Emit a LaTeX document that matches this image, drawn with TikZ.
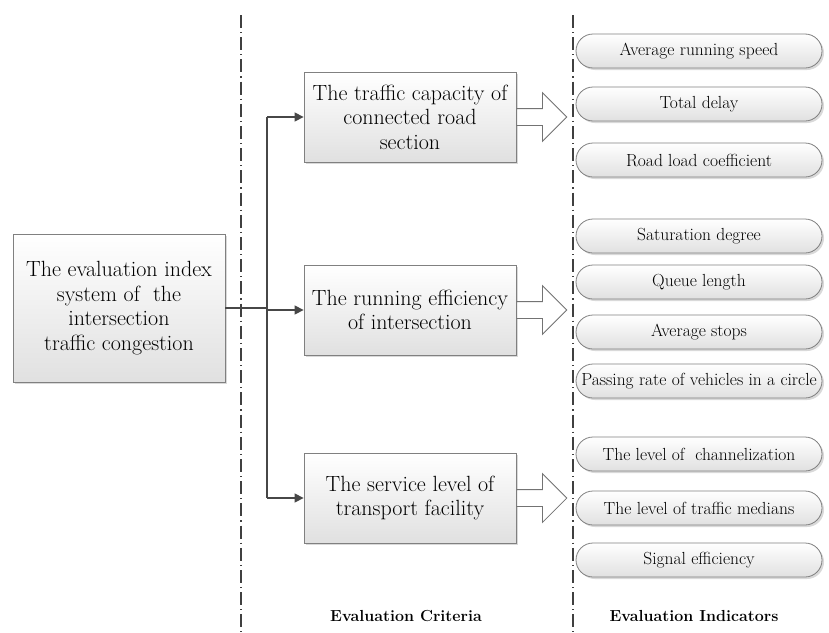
\documentclass[tikz,border=0pt]{standalone}
\usetikzlibrary{positioning,arrows.meta,shapes.arrows,shapes.misc,shadows}
\tikzset{
  boxfill/.style={draw=black!50, line width=0.8pt, top color=white, bottom color=black!12,
    drop shadow={opacity=0.3, shadow xshift=2pt, shadow yshift=-2pt}},
  sysbox/.style={boxfill, minimum width=212pt, minimum height=148pt, align=center,
    font=\fontsize{22}{24.5}\selectfont},
  critbox/.style={boxfill, minimum width=212pt, minimum height=90pt, align=center,
    font=\fontsize{22}{24.5}\selectfont},
  indbox/.style={boxfill, rounded rectangle, minimum width=246pt, minimum height=34pt,
    inner xsep=0pt, font=\fontsize{17.5}{20}\selectfont},
  conn/.style={draw=black!72, line width=1.3pt},
  linkarrow/.style={conn, -{Triangle[length=9pt, width=9pt]}},
  bigarrow/.style={single arrow, draw=black!55, fill=white, line width=0.8pt,
    minimum height=50pt, minimum width=48pt, inner sep=8pt, single arrow head extend=16pt},
  divider/.style={draw=black!75, line width=1.4pt, dash pattern=on 13pt off 4pt on 1.2pt off 4pt},
  heading/.style={font=\bfseries\fontsize{16}{18}\selectfont}
}
\begin{document}
\begin{tikzpicture}[x=1pt, y=-1pt]
  \useasboundingbox (0,0) rectangle (829,632);

  % column dividers
  \draw[divider] (241,15) -- (241,632);
  \draw[divider] (573,15) -- (573,632);

  % system and criteria
  \node[sysbox] (system) at (119,308) {The evaluation index\\system of~ the\\intersection\\traffic congestion};
  \node[critbox] (capacity) at (410,117) {The traffic capacity of\\connected road\\section};
  \node[critbox] (efficiency) at (410,310) {The running efficiency\\of intersection};
  \node[critbox] (service) at (410,498) {The service level of\\transport facility};

  \coordinate (trunk) at (267,308);
  \draw[conn] (system.east) -- (trunk);
  \draw[conn] (capacity.west -| trunk) -- (service.west -| trunk);
  \draw[linkarrow] (capacity.west -| trunk) -- (capacity.west);
  \draw[linkarrow] (efficiency.west -| trunk) -- (efficiency.west);
  \draw[linkarrow] (service.west -| trunk) -- (service.west);

  % hollow arrows
  \node[bigarrow, anchor=tail] (arr1) at (capacity.east) {};
  \node[bigarrow, anchor=tail] (arr2) at (efficiency.east) {};
  \node[bigarrow, anchor=tail] (arr3) at (service.east) {};

  % indicators
  \node[indbox] (speed) at (699,51) {Average running speed};
  \node[indbox] (delay) at (699,104) {Total delay};
  \node[indbox] (load) at (699,160) {Road load coefficient};

  \node[indbox] (saturation) at (699,236) {Saturation degree};
  \node[indbox] (queue) at (699,282) {Queue length};
  \node[indbox] (stops) at (699,332) {Average stops};
  \node[indbox] (passing) at (699,381) {Passing rate of vehicles in a circle};

  \node[indbox] (channel) at (699,454) {The level of~ channelization};
  \node[indbox] (medians) at (699,508) {The level of traffic medians};
  \node[indbox] (signal) at (699,560) {Signal efficiency};

  % column titles
  \node[heading] (criteria) at (406,616) {Evaluation Criteria};
  \node[heading] (indicators) at (694,616) {Evaluation Indicators};
\end{tikzpicture}
\end{document}
